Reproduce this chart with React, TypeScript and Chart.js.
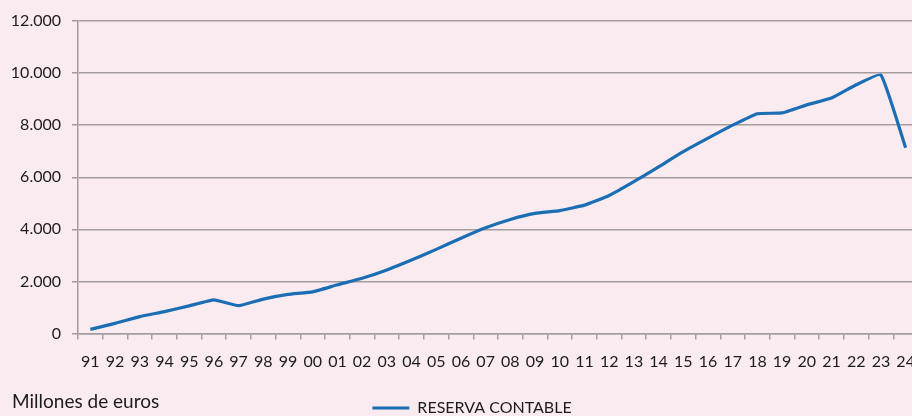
import React, { useEffect, useRef } from 'react';
import { Chart, registerables } from 'chart.js';

Chart.register(...registerables);

const years = [
  '91', '92', '93', '94', '95', '96', '97', '98', '99', '00',
  '01', '02', '03', '04', '05', '06', '07', '08', '09', '10',
  '11', '12', '13', '14', '15', '16', '17', '18', '19', '20',
  '21', '22', '23', '24',
];

const reservaContable = [
  160, 390, 650, 840, 1060, 1290, 1070, 1320, 1500, 1600,
  1870, 2120, 2440, 2820, 3230, 3660, 4060, 4380, 4610, 4720,
  4930, 5300, 5830, 6400, 6980, 7500, 8000, 8440, 8470, 8780,
  9040, 9550, 9930, 7130,
];

const seriesLabel = 'RESERVA CONTABLE';
const unitsLabel = 'Millones de euros';

const yMin = 0;
const yMax = 12000;
const yStep = 2000;

const BG = '#F9EBEF';
const GRID = '#A39D9E';
const LINE = '#1B6DB4';
const TEXT = '#1C1C1C';
const FONT = 'Lato, "Open Sans", sans-serif';
const LEGEND_SHIFT = 13;

const fmt = (v: number) => String(Math.round(v)).replace(/\B(?=(\d{3})+(?!\d))/g, '.');

export default function App() {
  const ref = useRef<HTMLCanvasElement | null>(null);

  useEffect(() => {
    if (!ref.current) return;
    const shiftLegend = {
      id: 'shiftLegend',
      afterLayout(chart: any) {
        const lg = chart.legend;
        if (lg) {
          lg.left += LEGEND_SHIFT;
          lg.right += LEGEND_SHIFT;
        }
      },
    };
    const chart = new Chart(ref.current, {
      type: 'line',
      data: {
        labels: years,
        datasets: [
          {
            label: seriesLabel,
            data: reservaContable,
            borderColor: LINE,
            backgroundColor: LINE,
            borderWidth: 3.2,
            pointRadius: 0,
            pointHoverRadius: 0,
            tension: 0.12,
            fill: false,
          },
        ],
      },
      options: {
        responsive: false,
        animation: false,
        layout: { padding: { top: 21, right: 22, left: 0, bottom: 0 } },
        plugins: {
          legend: {
            position: 'bottom',
            labels: {
              usePointStyle: true,
              pointStyle: 'line',
              pointStyleWidth: 37,
              padding: 10,
              color: TEXT,
              font: { family: FONT, size: 16 },
            },
          },
          tooltip: { enabled: false },
        },
        scales: {
          x: {
            offset: true,
            grid: {
              offset: true,
              drawOnChartArea: false,
              drawTicks: true,
              tickLength: 6,
              color: GRID,
              lineWidth: 1.5,
            },
            border: { display: true, color: GRID, width: 1.5 },
            ticks: {
              autoSkip: false,
              maxRotation: 0,
              padding: 13,
              color: TEXT,
              font: { family: FONT, size: 16 },
            },
            afterFit: (s: any) => {
              s.height = 56.5;
            },
          },
          y: {
            min: yMin,
            max: yMax,
            ticks: {
              stepSize: yStep,
              padding: 11,
              color: TEXT,
              font: { family: FONT, size: 16 },
              callback: (v: any) => fmt(Number(v)),
            },
            grid: { color: GRID, lineWidth: 1.5, tickLength: 6 },
            border: { display: true, color: GRID, width: 1.5 },
            afterFit: (s: any) => {
              s.width = 78;
            },
          },
        },
      },
      plugins: [shiftLegend],
    } as any);
    return () => chart.destroy();
  }, []);

  return (
    <div
      style={{
        position: 'fixed',
        left: 0,
        top: 0,
        width: 912,
        height: 416,
        overflow: 'hidden',
        background: BG,
      }}
    >
      <canvas ref={ref} width={940} height={426} style={{ display: 'block', width: 940, height: 426 }} />
      <div
        style={{
          position: 'absolute',
          left: 12,
          top: 389,
          fontFamily: FONT,
          fontSize: 19,
          lineHeight: '24px',
          color: TEXT,
          whiteSpace: 'nowrap',
        }}
      >
        {unitsLabel}
      </div>
    </div>
  );
}
